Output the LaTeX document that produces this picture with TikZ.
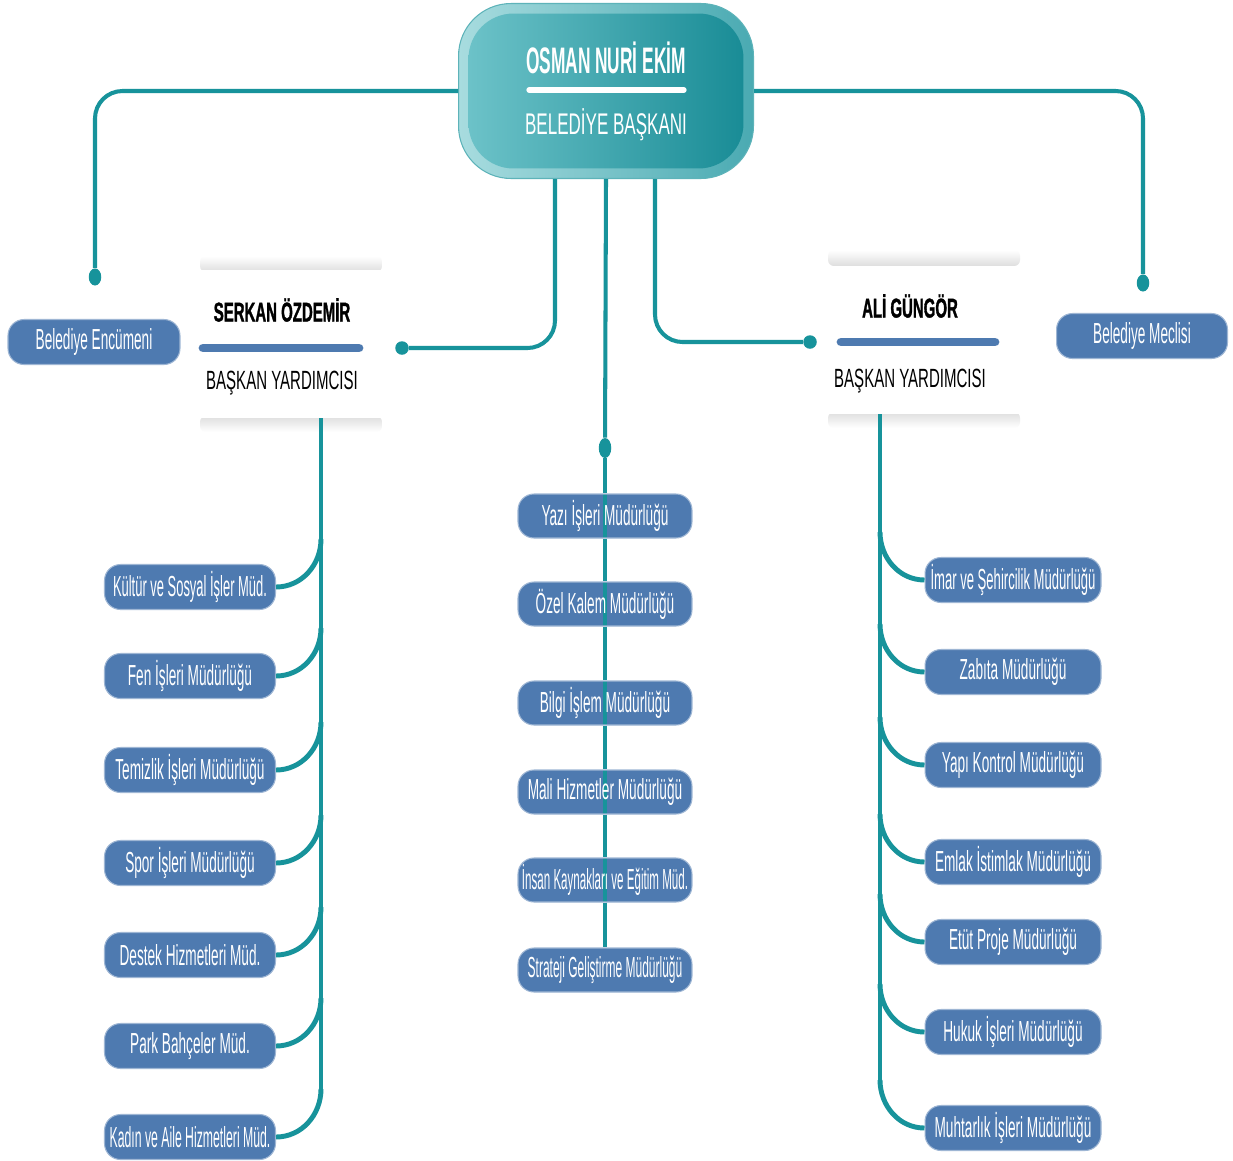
\documentclass[tikz,border=0pt]{standalone}
\usepackage{fontspec}
\usepackage{graphicx}
\setmainfont{Liberation Sans}
\newfontfamily\cf{Liberation Sans}[FakeStretch=0.47]
\newfontfamily\cfb{Liberation Sans}[FakeStretch=0.57]
\newfontfamily\cfh{Liberation Sans Bold}[FakeStretch=0.55, FakeBold=1.2]
\usetikzlibrary{shapes.geometric}
\definecolor{teal1}{HTML}{17939B}
\definecolor{boxblue}{HTML}{4E7AB0}
\definecolor{topL}{HTML}{6CC2C8}
\definecolor{topR}{HTML}{198C96}
\definecolor{ringL}{HTML}{A8DCDF}
\definecolor{ringR}{HTML}{4AAAB2}
\tikzset{
  conn/.style={draw=teal1, line width=2.3pt},
  spine/.style={draw=teal1, line width=2pt},
  branch/.style={draw=teal1, line width=2.8pt},
  dept/.style={rectangle, rounded corners=0.32cm, fill=boxblue, draw=boxblue!55!white,
    line width=0.6pt, minimum height=0.9cm, inner sep=0pt, text=white,
    font=\cf\fontsize{16.5}{18}\selectfont},
  lbox/.style={dept, minimum width=3.42cm},
  mbox/.style={dept, minimum width=3.48cm, minimum height=0.88cm},
  rbox/.style={dept, minimum width=3.52cm},
  through/.style={path picture={\draw[teal1, line width=1.8pt]
    (path picture bounding box.north) -- (path picture bounding box.south);}},
  vdot/.style={ellipse, fill=teal1, minimum width=0.25cm, minimum height=0.34cm, inner sep=0pt},
  hdot/.style={circle, fill=teal1, minimum size=0.27cm, inner sep=0pt},
  card/.style={rectangle, fill=white, inner sep=0pt},
  haze/.style={rounded corners=0.12cm},
  vpname/.style={font=\cfh\fontsize{15.5}{17}\selectfont, text=black, inner sep=0pt},
  vptitle/.style={font=\cfb\fontsize{15}{17}\selectfont, text=black, inner sep=0pt},
}
\begin{document}
\begin{tikzpicture}[x=0.02cm, y=-0.02cm]
\useasboundingbox (0,0) rectangle (1233,1160);
\fill[white] (0,0) rectangle (1233,1160);

% top node
\node[rectangle, rounded corners=1.05cm, left color=ringL, right color=ringR, draw=teal1!70,
  line width=0.6pt, minimum width=5.9cm, minimum height=3.5cm, inner sep=0pt] (top) at (606,91) {};
\node[rectangle, rounded corners=0.9cm, left color=topL, right color=topR,
  minimum width=5.5cm, minimum height=3.1cm, inner sep=0pt] (topin) at (606,91) {};
\node[font=\cf\bfseries\fontsize{21}{23}\selectfont, text=white, inner sep=0pt] (topname) at (606,58) {OSMAN NURİ EKİM};
\draw[white, line width=3pt, line cap=round] (529,90) -- (684,90);
\node[font=\cfb\fontsize{17}{19}\selectfont, text=white, inner sep=0pt] (toptitle) at (606,125) {BELEDİYE BAŞKANI};

% dots
\node[vdot] (dl) at (95,277) {};
\node[vdot] (dr) at (1143,283) {};
\node[hdot] (dvl) at (402,348) {};
\node[hdot] (dvr) at (810,342) {};
\node[vdot, minimum height=0.4cm] (dm) at (605,448) {};

% top connectors
\draw[conn, rounded corners=0.55cm] (top.west) -| (dl);
\draw[conn, rounded corners=0.55cm] (top.east) -| (dr);
\draw[conn, rounded corners=0.55cm] (555,0 |- top.south) |- (dvl);
\draw[conn, rounded corners=0.55cm] (655,0 |- top.south) |- (dvr);
\draw[conn] (top.south) -- (dm);

% side boxes
\node[lbox, minimum width=3.44cm] (enc) at (94,342) {Belediye Encümeni};
\node[lbox] (mec) at (1142,336) {Belediye Meclisi};

% VP cards (white cards with soft haze at top and bottom)
\shade[haze, top color=white, bottom color=black!13] (200,256) rectangle (382,272);
\shade[haze, top color=black!13, bottom color=white] (200,416) rectangle (382,432);
\node[card, minimum width=3.9cm, minimum height=2.95cm] (vpl) at (290,344) {};
\node[vpname] (vplname) at (282,310) {SERKAN ÖZDEMİR};
\draw[boxblue, line width=5pt, line cap=round] (203,348) -- (359,348);
\node[vptitle] (vpltitle) at (282,383) {BAŞKAN YARDIMCISI};

\shade[haze, top color=white, bottom color=black!13] (828,250) rectangle (1020,266);
\shade[haze, top color=black!13, bottom color=white] (828,412) rectangle (1020,428);
\node[card, minimum width=4.15cm, minimum height=2.95cm] (vpr) at (924,340) {};
\node[vpname] (vprname) at (910,306) {ALİ GÜNGÖR};
\draw[boxblue, line width=5pt, line cap=round] (841,342) -- (995,342);
\node[vptitle] (vprtitle) at (910,381) {BAŞKAN YARDIMCISI};

% middle column
\node[mbox, through] (m1) at (605,516) {Yazı İşleri Müdürlüğü};
\node[mbox, through] (m2) at (605,604) {Özel Kalem Müdürlüğü};
\node[mbox, through] (m3) at (605,703) {Bilgi İşlem Müdürlüğü};
\node[mbox, through] (m4) at (605,792) {Mali Hizmetler Müdürlüğü};
\node[mbox, through] (m5) at (605,880) {\scalebox{0.85}[1]{İnsan Kaynakları ve Eğitim Müd.}};
\node[mbox] (m6) at (605,970) {\scalebox{0.88}[1]{Strateji Geliştirme Müdürlüğü}};
\draw[spine, line width=1.8pt] (dm) -- (m1);
\draw[spine, line width=1.8pt] (m1) -- (m2);
\draw[spine, line width=1.8pt] (m2) -- (m3);
\draw[spine, line width=1.8pt] (m3) -- (m4);
\draw[spine, line width=1.8pt] (m4) -- (m5);
\draw[spine, line width=1.8pt] (m5) -- (m6);

% left column
\node[lbox] (l1) at (190,587) {\scalebox{0.95}[1]{Kültür ve Sosyal İşler Müd.}};
\node[lbox] (l2) at (190,676) {Fen İşleri Müdürlüğü};
\node[lbox] (l3) at (190,770) {Temizlik İşleri Müdürlüğü};
\node[lbox] (l4) at (190,863) {Spor İşleri Müdürlüğü};
\node[lbox] (l5) at (190,955) {Destek Hizmetleri Müd.};
\node[lbox] (l6) at (190,1046) {Park Bahçeler Müd.};
\node[lbox] (l7) at (190,1137) {\scalebox{0.9}[1]{Kadın ve Aile Hizmetleri Müd.}};
\coordinate (ls) at (321,1090);
\draw[spine] (321,0 |- vpl.south) -- (ls);
\foreach \n/\y in {l1/587,l2/676,l3/770,l4/863,l5/955,l6/1046,l7/1137}{
  \draw[branch] (321,\y-48) to[out=-90,in=0] (\n.east);
}

% right column
\node[rbox] (r1) at (1013,580) {\scalebox{0.96}[1]{İmar ve Şehircilik Müdürlüğü}};
\node[rbox] (r2) at (1013,672) {Zabıta Müdürlüğü};
\node[rbox] (r3) at (1013,765) {Yapı Kontrol Müdürlüğü};
\node[rbox] (r4) at (1013,862) {Emlak İstimlak Müdürlüğü};
\node[rbox] (r5) at (1013,942) {Etüt Proje Müdürlüğü};
\node[rbox] (r6) at (1013,1032) {Hukuk İşleri Müdürlüğü};
\node[rbox] (r7) at (1013,1128) {Muhtarlık İşleri Müdürlüğü};
\coordinate (rs) at (880,1080);
\draw[spine] (880,0 |- vpr.south) -- (rs);
\foreach \n/\y in {r1/580,r2/672,r3/765,r4/862,r5/942,r6/1032,r7/1128}{
  \draw[branch] (880,\y-48) to[out=-90,in=180] (\n.west);
}
\end{tikzpicture}
\end{document}
